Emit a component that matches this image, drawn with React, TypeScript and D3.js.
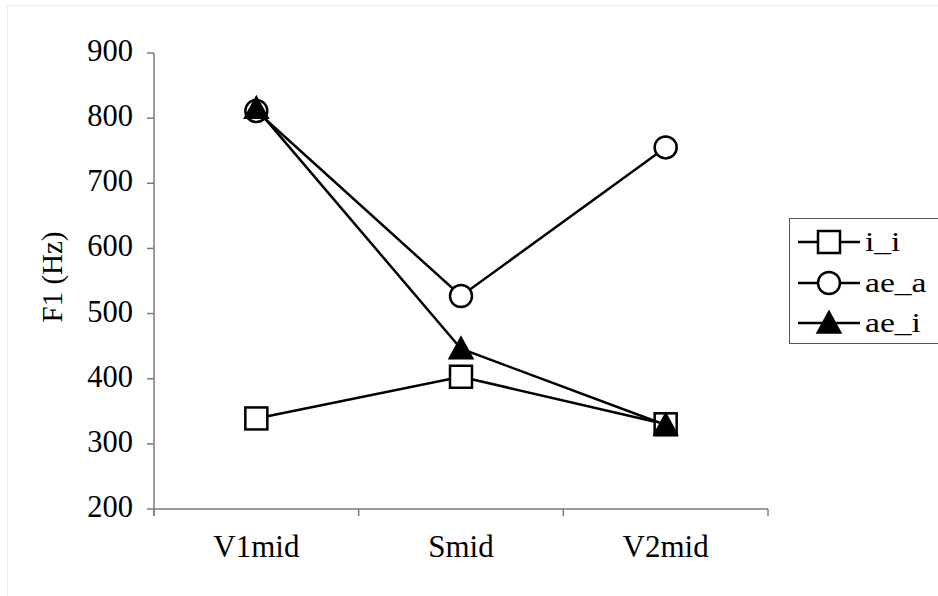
import React from "react";
import * as d3 from "d3";

const categories = ["V1mid", "Smid", "V2mid"];
const seriesNames = ["i_i", "ae_a", "ae_i"];
const iiValues = [339, 403, 330];
const aeaValues = [811, 527, 755];
const aeiValues = [815, 446, 329];
const yTicks = [200, 300, 400, 500, 600, 700, 800, 900];

const W = 938;
const H = 596;
const FONT = "Liberation Serif, Times New Roman, DejaVu Serif, serif";
const tickStyle: React.CSSProperties = { fontFamily: FONT, fontSize: "30.5px" };
const catStyle: React.CSSProperties = { fontFamily: FONT, fontSize: "31px" };
const titleStyle: React.CSSProperties = { fontFamily: FONT, fontSize: "29px" };
const legendStyle: React.CSSProperties = { fontFamily: FONT, fontSize: "28px" };

type Shape = "square" | "circle" | "triangle";

function Marker({ x, y, shape }: { x: number; y: number; shape: Shape }) {
  if (shape === "square") {
    return <rect x={x - 11} y={y - 11} width={22} height={22} fill="#fff" stroke="#000" strokeWidth={2.5} />;
  }
  if (shape === "circle") {
    return <circle cx={x} cy={y} r={11} fill="#fff" stroke="#000" strokeWidth={2.5} />;
  }
  const p = `M${x},${y - 12} L${x + 12},${y + 10} L${x - 12},${y + 10} Z`;
  return <path d={p} fill="#000" stroke="#000" strokeWidth={1.5} strokeLinejoin="miter" />;
}

export default function App() {
  const left = 154;
  const right = 768;
  const top = 53;
  const bottom = 509;

  const x = d3.scaleBand<string>().domain(categories).range([left, right]);
  const y = d3.scaleLinear().domain([200, 900]).range([bottom, top]);

  const series: { name: string; values: number[]; shape: Shape }[] = [
    { name: seriesNames[0], values: iiValues, shape: "square" },
    { name: seriesNames[1], values: aeaValues, shape: "circle" },
    { name: seriesNames[2], values: aeiValues, shape: "triangle" },
  ];

  const line = d3
    .line<number>()
    .x((_, i) => (x(categories[i]) as number) + x.bandwidth() / 2)
    .y((v) => y(v));

  const xTickPos = [...categories.map((c) => x(c) as number), right];
  const axisColor = "#7a7a7a";

  const legendRows = [242, 283, 323];

  return (
    <svg
      width={W}
      height={H}
      style={{ position: "absolute", left: 0, top: 0, background: "#fff" }}
    >
      <rect x={0} y={0} width={W} height={H} fill="#fff" />
      <line x1={7.5} y1={5} x2={7.5} y2={H} stroke="#ececec" strokeWidth={1} />
      <line x1={7} y1={5.5} x2={W} y2={5.5} stroke="#ececec" strokeWidth={1} />

      {/* y axis */}
      <line x1={left} y1={top} x2={left} y2={bottom + 7} stroke={axisColor} strokeWidth={1.5} />
      {yTicks.map((t) => (
        <g key={t}>
          <line x1={left - 7} y1={y(t)} x2={left} y2={y(t)} stroke={axisColor} strokeWidth={1.5} />
          <text x={133} y={y(t) + 8} textAnchor="end" style={tickStyle} fill="#000">
            {t}
          </text>
        </g>
      ))}

      {/* x axis */}
      <line x1={left} y1={bottom} x2={right} y2={bottom} stroke={axisColor} strokeWidth={1.5} />
      {xTickPos.map((p, i) => (
        <line key={i} x1={p} y1={bottom} x2={p} y2={bottom + 7} stroke={axisColor} strokeWidth={1.5} />
      ))}
      {categories.map((c) => (
        <text key={c} x={(x(c) as number) + x.bandwidth() / 2} y={557} textAnchor="middle" style={catStyle} fill="#000">
          {c}
        </text>
      ))}

      {/* y title */}
      <text transform={`translate(62, ${(top + bottom) / 2 - 4}) rotate(-90)`} textAnchor="middle" style={titleStyle} fill="#000">
        F1 (Hz)
      </text>

      {/* series */}
      {series.map((s) => (
        <g key={s.name}>
          <path d={line(s.values) as string} fill="none" stroke="#000" strokeWidth={2.5} />
          {s.values.map((v, i) => (
            <Marker key={i} x={(x(categories[i]) as number) + x.bandwidth() / 2} y={y(v)} shape={s.shape} />
          ))}
        </g>
      ))}

      {/* legend */}
      <rect x={789.5} y={218.5} width={200} height={125} fill="#fff" stroke="#555" strokeWidth={1} />
      {series.map((s, i) => (
        <g key={s.name}>
          <line x1={798} y1={legendRows[i]} x2={860} y2={legendRows[i]} stroke="#000" strokeWidth={2.5} />
          <Marker x={829} y={legendRows[i]} shape={s.shape} />
          <text
            transform={`translate(865, ${legendRows[i] + 9}) scale(1.2, 1)`}
            style={legendStyle}
            fill="#000"
          >
            {s.name}
          </text>
        </g>
      ))}
    </svg>
  );
}
